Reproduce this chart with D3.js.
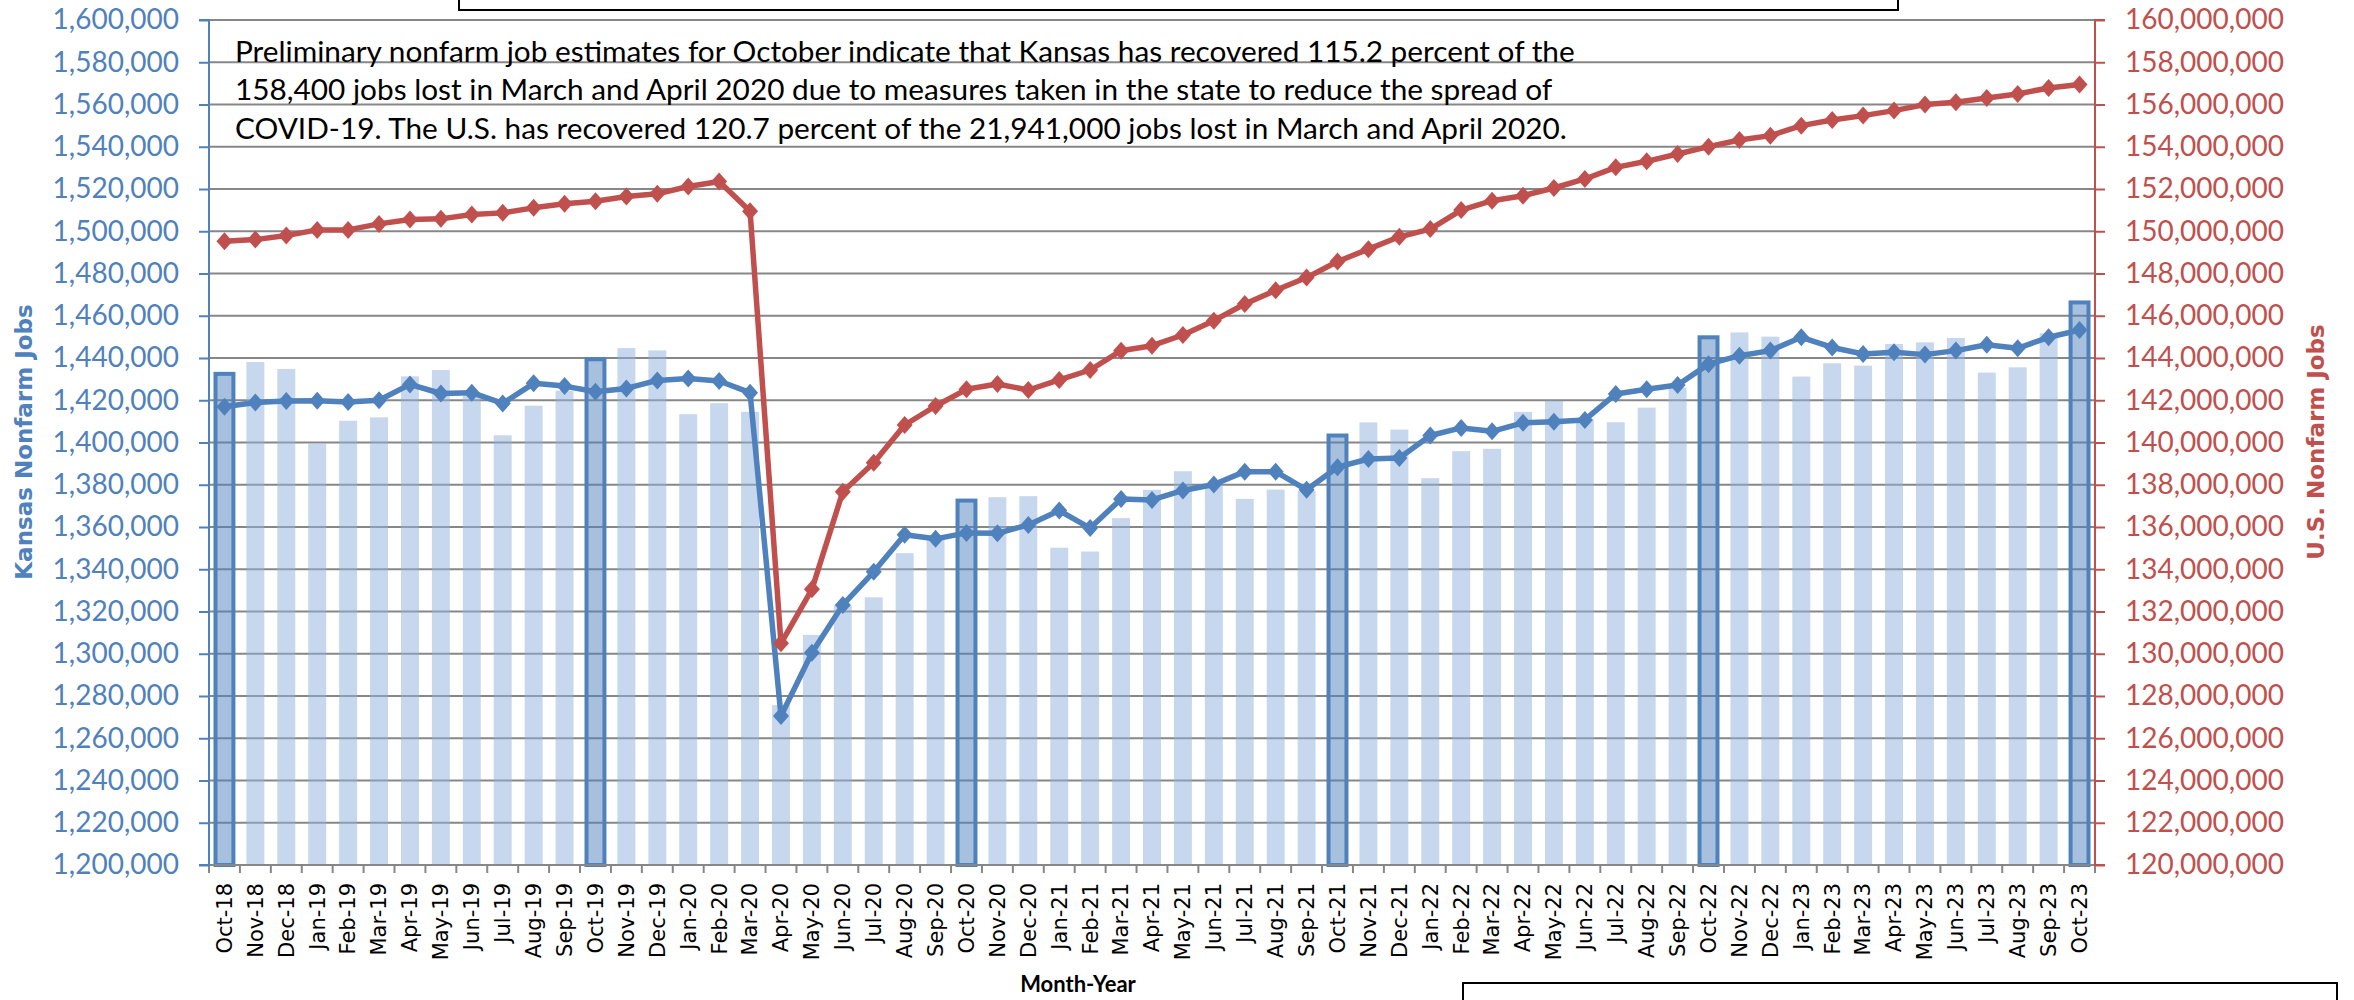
<html>
  <head>
    <style>
      body { margin: 0; background: #fff; }
    </style>
  </head>
  <body>
    <script src="https://d3js.org/d3.v7.min.js"></script>
    <div id="main"></div>

    <script>
      // Data
      const months = [
        "Oct-18", "Nov-18", "Dec-18", "Jan-19", "Feb-19", "Mar-19", "Apr-19", "May-19", "Jun-19", "Jul-19", "Aug-19", "Sep-19",
        "Oct-19", "Nov-19", "Dec-19", "Jan-20", "Feb-20", "Mar-20", "Apr-20", "May-20", "Jun-20", "Jul-20", "Aug-20", "Sep-20",
        "Oct-20", "Nov-20", "Dec-20", "Jan-21", "Feb-21", "Mar-21", "Apr-21", "May-21", "Jun-21", "Jul-21", "Aug-21", "Sep-21",
        "Oct-21", "Nov-21", "Dec-21", "Jan-22", "Feb-22", "Mar-22", "Apr-22", "May-22", "Jun-22", "Jul-22", "Aug-22", "Sep-22",
        "Oct-22", "Nov-22", "Dec-22", "Jan-23", "Feb-23", "Mar-23", "Apr-23", "May-23", "Jun-23", "Jul-23", "Aug-23", "Sep-23",
        "Oct-23"
      ];

      // Kansas, not seasonally adjusted (bars)
      const kansasBars = [
        1432500, 1438100, 1434800, 1399400, 1410300, 1411900, 1431300, 1434300, 1422000, 1403400, 1417400, 1424500,
        1439400, 1444700, 1443600, 1413400, 1418600, 1414500, 1275700, 1308900, 1323000, 1326700, 1347600, 1354000,
        1372500, 1374100, 1374600, 1350200, 1348400, 1364200, 1377600, 1386400, 1379600, 1373300, 1377700, 1377000,
        1403300, 1409500, 1406100, 1383100, 1395900, 1397000, 1414500, 1419800, 1411000, 1409600, 1416500, 1426000,
        1449800, 1452100, 1450100, 1431200, 1437500, 1436400, 1446600, 1447400, 1449500, 1433100, 1435600, 1451700,
        1466300
      ];

      // Kansas, seasonally adjusted (blue line)
      const kansasLine = [
        1416900, 1418900, 1419700, 1419800, 1419200, 1420000, 1427500, 1423200, 1423600, 1418500, 1428000, 1426700,
        1424000, 1425600, 1429400, 1430300, 1429100, 1423600, 1270500, 1300500, 1323100, 1338800, 1356300, 1354400,
        1357200, 1357000, 1361000, 1367800, 1359500, 1373300, 1372800, 1377300, 1380100, 1386200, 1386200, 1377600,
        1388300, 1392200, 1392700, 1403300, 1406900, 1405300, 1409300, 1409800, 1410700, 1423000, 1425200, 1427200,
        1437100, 1441100, 1443500, 1449800, 1445000, 1441900, 1442700, 1441600, 1443500, 1446300, 1444600, 1449800,
        1453200
      ];

      // U.S. nonfarm jobs (red line, right axis)
      const usLine = [
        149525000, 149604000, 149794000, 150063000, 150063000, 150348000, 150554000, 150586000, 150791000, 150870000, 151108000, 151297000,
        151424000, 151646000, 151772000, 152120000, 152358000, 150950000, 130495000, 133051000, 137672000, 139045000, 140828000, 141728000,
        142518000, 142769000, 142485000, 142959000, 143432000, 144347000, 144584000, 145089000, 145767000, 146556000, 147206000, 147807000,
        148566000, 149152000, 149737000, 150101000, 151003000, 151446000, 151684000, 152047000, 152475000, 153026000, 153311000, 153658000,
        154005000, 154321000, 154526000, 155000000, 155268000, 155474000, 155711000, 155995000, 156105000, 156311000, 156500000, 156784000,
        156942000
      ];

      const leftTicks = d3.range(1200000, 1600001, 20000);
      const rightTicks = d3.range(120000000, 160000001, 2000000);

      const noteLines = [
        "Preliminary nonfarm job estimates for October indicate that Kansas has recovered 115.2 percent of the",
        "158,400 jobs lost in March and April 2020 due to measures taken in the state to reduce the spread of",
        "COVID-19. The U.S. has recovered 120.7 percent of the 21,941,000 jobs lost in March and April 2020."
      ];

      const BLUE = "#4F81BD";
      const RED = "#C0504D";
      const GRID = "#878787";

      const svg = d3
        .select("#main")
        .append("svg")
        .attr("width", 2354)
        .attr("height", 1000)
        .style("background", "#fff");

      const x0 = 209, x1 = 2095, yTop = 20, yBot = 865;

      const x = d3
        .scaleBand()
        .domain(months)
        .range([x0, x1])
        .paddingInner(0.42)
        .paddingOuter(0.21);
      const yL = d3.scaleLinear().domain([1200000, 1600000]).range([yBot, yTop]);
      const yR = d3.scaleLinear().domain([120000000, 160000000]).range([yBot, yTop]);
      const cx = (i) => x(months[i]) + x.bandwidth() / 2;

      // Gridlines
      svg
        .append("g")
        .selectAll("line")
        .data(leftTicks)
        .join("line")
        .attr("x1", x0)
        .attr("x2", x1)
        .attr("y1", (d) => yL(d))
        .attr("y2", (d) => yL(d))
        .attr("stroke", GRID)
        .attr("stroke-width", 2);

      // Bars (October bars are outlined)
      svg
        .append("g")
        .selectAll("rect")
        .data(kansasBars)
        .join("rect")
        .attr("x", (d, i) => x(months[i]))
        .attr("width", x.bandwidth())
        .attr("y", (d) => yL(d))
        .attr("height", (d) => yBot - yL(d))
        .attr("fill", (d, i) => (months[i].startsWith("Oct") ? BLUE : "#8DAFDD"))
        .attr("fill-opacity", 0.5)
        .attr("stroke", (d, i) => (months[i].startsWith("Oct") ? BLUE : "none"))
        .attr("stroke-width", 4);

      // Bottom axis line and category ticks
      const xAxis = svg.append("g");
      xAxis
        .append("line")
        .attr("x1", x0)
        .attr("x2", x1)
        .attr("y1", yBot)
        .attr("y2", yBot)
        .attr("stroke", GRID)
        .attr("stroke-width", 2);
      const step = x.step();
      xAxis
        .selectAll(".xt")
        .data(d3.range(months.length + 1))
        .join("line")
        .attr("class", "xt")
        .attr("x1", (i) => x0 + i * step)
        .attr("x2", (i) => x0 + i * step)
        .attr("y1", yBot)
        .attr("y2", yBot + 8)
        .attr("stroke", GRID)
        .attr("stroke-width", 2);
      xAxis
        .selectAll("text")
        .data(months)
        .join("text")
        .attr("transform", (d, i) => `translate(${cx(i)},883) rotate(-90)`)
        .attr("dy", "0.35em")
        .attr("text-anchor", "end")
        .attr("font-family", "DejaVu Sans")
        .attr("font-size", 21)
        .attr("fill", "#000")
        .text((d) => d);

      // Left axis
      const leftAxis = svg
        .append("g")
        .attr("transform", `translate(${x0},0)`)
        .call(
          d3.axisLeft(yL).tickValues(leftTicks).tickSize(10).tickPadding(20).tickFormat(d3.format(","))
        );
      leftAxis.selectAll("path, line").attr("stroke", BLUE).attr("stroke-width", 2);
      leftAxis.select(".domain").attr("d", `M-10,${yBot}H0V${yTop}H-10`);
      leftAxis
        .selectAll("text")
        .attr("fill", BLUE)
        .attr("font-family", "Lato")
        .attr("font-size", 28);

      // Right axis
      const rightAxis = svg
        .append("g")
        .attr("transform", `translate(${x1},0)`)
        .call(
          d3.axisRight(yR).tickValues(rightTicks).tickSize(10).tickPadding(20).tickFormat(d3.format(","))
        );
      rightAxis.selectAll("path, line").attr("stroke", RED).attr("stroke-width", 2);
      rightAxis.select(".domain").attr("d", `M10,${yBot}H0V${yTop}H10`);
      rightAxis
        .selectAll("text")
        .attr("fill", RED)
        .attr("font-family", "Lato")
        .attr("font-size", 28);

      // Lines with diamond markers
      const diamond = "M0,-9L8,0L0,9L-8,0Z";
      function addSeries(values, scale, color) {
        const line = d3
          .line()
          .x((d, i) => cx(i))
          .y((d) => scale(d));
        svg
          .append("path")
          .datum(values)
          .attr("d", line)
          .attr("fill", "none")
          .attr("stroke", color)
          .attr("stroke-width", 5.5)
          .attr("stroke-linejoin", "round");
        svg
          .append("g")
          .selectAll("path")
          .data(values)
          .join("path")
          .attr("d", diamond)
          .attr("transform", (d, i) => `translate(${cx(i)},${scale(d)})`)
          .attr("fill", color);
      }
      addSeries(kansasLine, yL, BLUE);
      addSeries(usLine, yR, RED);

      // Axis titles
      svg
        .append("text")
        .attr("transform", "translate(24,442) rotate(-90)")
        .attr("text-anchor", "middle")
        .attr("dy", "0.35em")
        .attr("font-family", "DejaVu Sans")
        .attr("font-weight", "bold")
        .attr("font-size", 23)
        .attr("fill", BLUE)
        .text("Kansas Nonfarm Jobs");
      svg
        .append("text")
        .attr("transform", "translate(2316,442) rotate(-90)")
        .attr("text-anchor", "middle")
        .attr("dy", "0.35em")
        .attr("font-family", "DejaVu Sans")
        .attr("font-weight", "bold")
        .attr("font-size", 23)
        .attr("fill", RED)
        .text("U.S. Nonfarm Jobs");
      svg
        .append("text")
        .attr("x", 1078)
        .attr("y", 992)
        .attr("text-anchor", "middle")
        .attr("font-family", "Lato")
        .attr("font-weight", "bold")
        .attr("font-size", 22)
        .text("Month-Year");

      // Note text
      const note = svg
        .append("g")
        .selectAll("text")
        .data(noteLines)
        .join("text")
        .attr("x", 235)
        .attr("y", (d, i) => 62 + i * 38.3)
        .attr("font-family", "Lato")
        .attr("font-size", 28)
        .attr("fill", "#000")
        .text((d) => d);
      const w0 = note.nodes()[0].getComputedTextLength();
      note.attr("font-size", (28 * 1340) / w0);

      // Text boxes cut by the edges
      svg
        .append("rect")
        .attr("x", 459)
        .attr("y", -30)
        .attr("width", 1439)
        .attr("height", 40)
        .attr("fill", "#fff")
        .attr("stroke", "#000")
        .attr("stroke-width", 2);
      svg
        .append("rect")
        .attr("x", 1463)
        .attr("y", 983)
        .attr("width", 874)
        .attr("height", 40)
        .attr("fill", "#fff")
        .attr("stroke", "#000")
        .attr("stroke-width", 2);
    </script>
  </body>
</html>
